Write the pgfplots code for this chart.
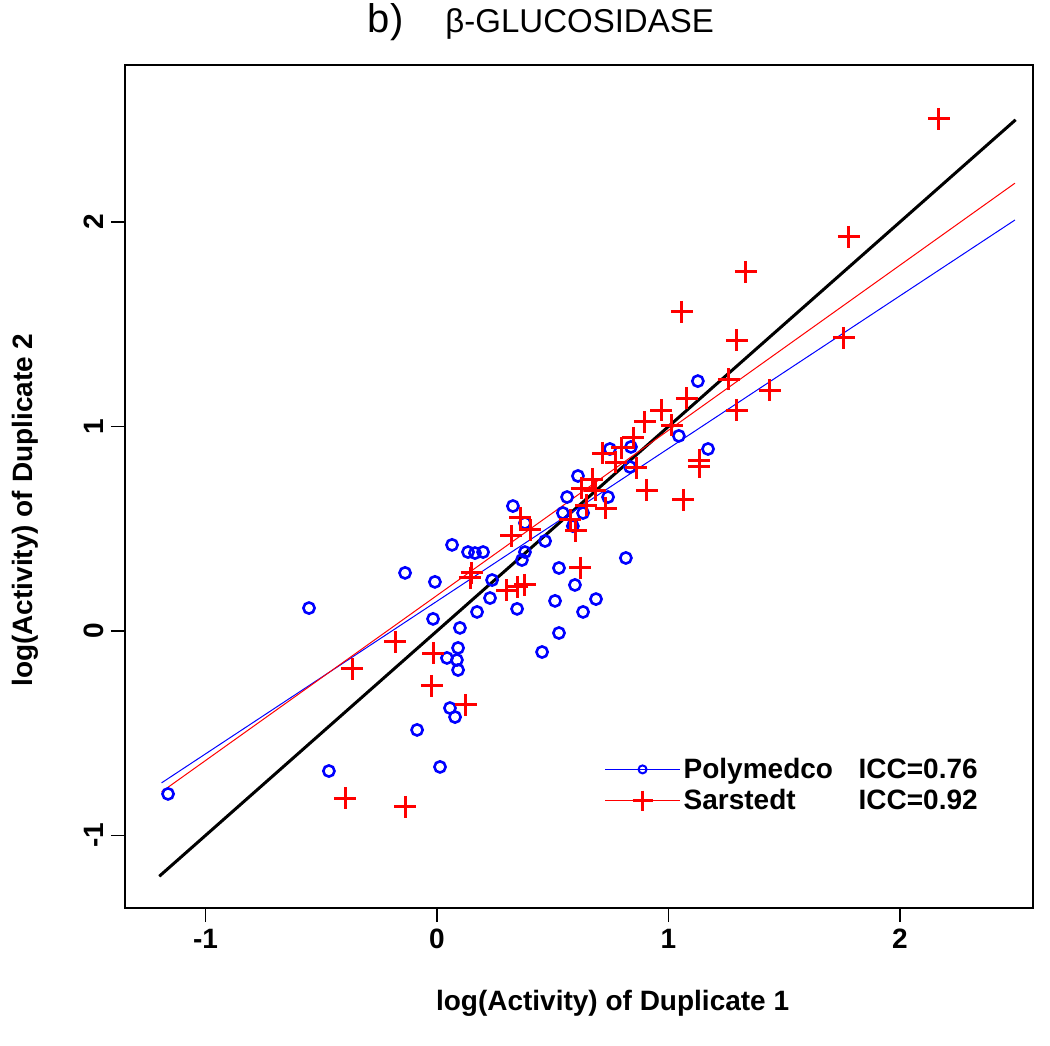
\documentclass[border=0pt]{standalone}
\usepackage{fontspec}
\setmainfont{Liberation Sans}
\usepackage{pgfplots}
\pgfplotsset{compat=1.18}

% Polymedco duplicates (log activity)
\pgfplotstableread{
x y
-1.162 -0.797
-0.553 0.112
-0.467 -0.685
-0.138 0.284
-0.086 -0.484
-0.009 0.240
-0.017 0.059
0.013 -0.665
0.065 0.421
0.043 -0.132
0.086 -0.142
0.056 -0.377
0.078 -0.421
0.099 0.015
0.091 -0.083
0.091 -0.191
0.134 0.386
0.164 0.381
0.199 0.386
0.173 0.093
0.229 0.161
0.238 0.249
0.328 0.611
0.346 0.108
0.380 0.528
0.367 0.347
0.380 0.386
0.467 0.440
0.454 -0.103
0.510 0.147
0.527 0.308
0.527 -0.010
0.562 0.655
0.544 0.577
0.587 0.513
0.596 0.225
0.609 0.758
0.631 0.093
0.631 0.577
0.687 0.156
0.739 0.655
0.747 0.890
0.838 0.900
0.834 0.802
0.816 0.357
1.045 0.954
1.127 1.222
1.171 0.890
}\polymedco

% Sarstedt duplicates (log activity)
\pgfplotstableread{
x y
2.168 2.504
1.780 1.927
1.335 1.756
1.058 1.560
1.296 1.423
1.758 1.433
1.438 1.178
1.261 1.232
1.080 1.139
0.968 1.080
1.296 1.080
0.898 1.022
1.015 1.007
0.847 0.944
0.799 0.895
0.717 0.870
0.773 0.826
0.860 0.797
1.132 0.836
1.132 0.802
0.907 0.689
1.063 0.641
0.670 0.743
0.626 0.699
0.683 0.689
0.644 0.616
0.730 0.601
0.575 0.543
0.600 0.489
0.359 0.553
0.402 0.494
0.320 0.465
0.151 0.284
0.143 0.259
0.302 0.200
0.346 0.215
0.380 0.225
0.618 0.308
-0.181 -0.054
-0.367 -0.186
-0.017 -0.108
-0.022 -0.269
0.125 -0.362
-0.138 -0.861
-0.397 -0.817
}\sarstedt

\begin{document}
\begin{tikzpicture}
\begin{axis}[
  scale only axis,
  width=454pt, height=421.5pt,
  xmin=-1.348, xmax=2.575,
  ymin=-1.355, ymax=2.768,
  xtick={-1,0,1,2}, xticklabels={-1,0,1,2},
  ytick={-1,0,1,2}, yticklabels={-1,0,1,2},
  xtick pos=bottom, ytick pos=left,
  tick align=outside,
  major tick length=7pt,
  tick style={black, line width=0.6pt},
  axis line style={line width=0.6pt},
  ticklabel style={font=\fontsize{14}{16}\selectfont\bfseries},
  yticklabel style={rotate=90, anchor=south},
  xlabel={log(Activity) of Duplicate 1},
  ylabel={log(Activity) of Duplicate 2},
  label style={font=\fontsize{14}{16}\selectfont\bfseries},
  xlabel style={at={(axis description cs:0.537,-0.121)}, anchor=base},
  ylabel style={at={(axis description cs:-0.1024,0.472)}, anchor=base, rotate=0},
  every axis title shift=0pt,
  title={\fontsize{20}{22}\selectfont b)\hspace{21pt}\fontsize{16.5}{18}\selectfont β-GLUCOSIDASE},
  title style={at={(axis description cs:0.458,1.0385)}, anchor=base},
  legend style={draw=none, fill=none, at={(axis description cs:0.521,0.187)},
    anchor=north west, font=\fontsize{14}{16}\selectfont\bfseries,
    row sep=1pt, nodes={inner sep=1.5pt}},
  legend cell align=left,
  legend image code/.code={
    \draw[mark repeat=2,mark phase=2,#1] plot coordinates {(0pt,0pt) (18.75pt,0pt) (37.5pt,0pt)};},
]
\addplot[black, line width=1.5pt, forget plot] coordinates {(-1.2,-1.2) (2.5,2.5)};
\addplot[blue, line width=0.5pt, forget plot] coordinates {(-1.19,-0.743) (2.497,2.01)};
\addplot[red, line width=0.5pt, forget plot] coordinates {(-1.19,-0.787) (2.497,2.19)};
\addplot[blue, only marks, mark=o, mark size=2.8pt, line width=1.3pt, forget plot] table[x=x,y=y] {\polymedco};
\addplot[red, only marks, mark=+, mark size=5.5pt, line width=1.5pt, forget plot] table[x=x,y=y] {\sarstedt};
\addlegendimage{blue, line width=0.6pt, mark=o, mark size=2pt, mark options={line width=1pt}}
\addlegendentry{\makebox[87.5pt][l]{Polymedco}ICC=0.76}
\addlegendimage{red, line width=0.6pt, mark=+, mark size=5pt, mark options={line width=1.3pt}}
\addlegendentry{\makebox[87.5pt][l]{Sarstedt}ICC=0.92}
\end{axis}
\pgfresetboundingbox
\path[use as bounding box] ([shift={(-62.5pt,-68.5pt)}]current axis.south west) rectangle ([shift={(8.5pt,32.5pt)}]current axis.north east);
\end{tikzpicture}
\end{document}
